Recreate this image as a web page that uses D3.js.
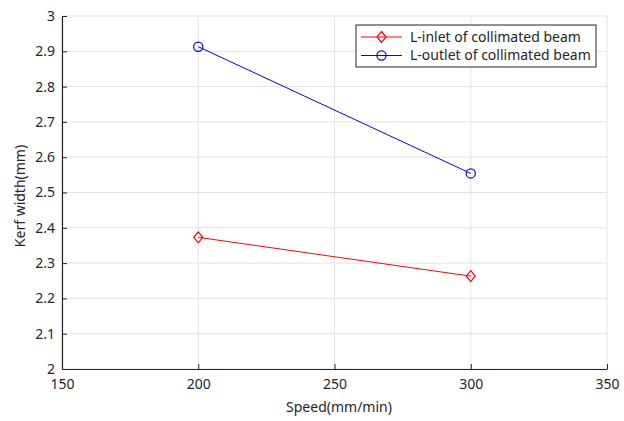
<!DOCTYPE html>
<html><head><meta charset="utf-8">
<script src="https://cdn.jsdelivr.net/npm/d3@7"></script>
<style>body{margin:0;background:#fff}svg{display:block}text{font-family:"Noto Sans","Noto Sans CJK KR",sans-serif;fill:#262626}</style>
</head><body><svg id="c" width="624" height="421"></svg>
<script>
const speeds = [200, 300];
const inletWidth = [2.373, 2.263];
const outletWidth = [2.913, 2.554];
const seriesNames = ["L-inlet of collimated beam", "L-outlet of collimated beam"];
const xTicks = [150, 200, 250, 300, 350];
const yTicks = [2, 2.1, 2.2, 2.3, 2.4, 2.5, 2.6, 2.7, 2.8, 2.9, 3];

const svg = d3.select("#c");
const L = 62, R = 607, T = 16, B = 369;
const x = d3.scaleLinear().domain([150, 350]).range([L, R]);
const y = d3.scaleLinear().domain([2, 3]).range([B, T]);

// grid
svg.append("g").selectAll("line").data(xTicks).join("line")
  .attr("x1", d => x(d)).attr("x2", d => x(d)).attr("y1", T).attr("y2", B)
  .attr("stroke", "#e3e3e3").attr("stroke-width", 1);
svg.append("g").selectAll("line").data(yTicks).join("line")
  .attr("x1", L).attr("x2", R).attr("y1", d => y(d)).attr("y2", d => y(d))
  .attr("stroke", "#e3e3e3").attr("stroke-width", 1);

// axes
const xAxis = d3.axisBottom(x).tickValues(xTicks).tickSizeInner(-5).tickSizeOuter(0).tickPadding(10).tickFormat(d3.format("d"));
const yAxis = d3.axisLeft(y).tickValues(yTicks).tickSizeInner(-5).tickSizeOuter(0).tickPadding(7).tickFormat(d => d3.format("")(d));
const gx = svg.append("g").attr("transform", `translate(0,${B})`).call(xAxis);
const gy = svg.append("g").attr("transform", `translate(${L},0)`).call(yAxis);
[gx, gy].forEach(g => {
  g.select(".domain").attr("stroke", "#262626").attr("stroke-width", 1.2);
  g.selectAll(".tick line").attr("stroke", "#262626");
  g.selectAll(".tick text").attr("font-size", 14).attr("fill", "#262626")
    .style("font-family", '"Noto Sans",sans-serif');
});

svg.append("text").attr("x", 339).attr("y", 412).attr("text-anchor", "middle")
  .attr("font-size", 14).text("Speed(mm/min)");
svg.append("text").attr("transform", `translate(25,196) rotate(-90)`).attr("text-anchor", "middle")
  .attr("font-size", 14).text("Kerf width(mm)");

const line = d3.line().x(d => x(d[0])).y(d => y(d[1]));
const diamond = (g, cx, cy, col) => g.append("path")
  .attr("d", `M${cx},${cy - 5.5}L${cx + 4.5},${cy}L${cx},${cy + 5.5}L${cx - 4.5},${cy}Z`)
  .attr("fill", "none").attr("stroke", col).attr("stroke-width", 1.2);
const circle = (g, cx, cy, col) => g.append("circle").attr("cx", cx).attr("cy", cy).attr("r", 4.6)
  .attr("fill", "none").attr("stroke", col).attr("stroke-width", 1.2);

const series = [
  {vals: inletWidth, col: "#ff0000", mk: diamond},
  {vals: outletWidth, col: "#0000ff", mk: circle}
];
series.forEach(s => {
  const pts = speeds.map((v, i) => [v, s.vals[i]]);
  svg.append("path").attr("d", line(pts)).attr("fill", "none").attr("stroke", s.col).attr("stroke-width", 1);
  const g = svg.append("g");
  pts.forEach(p => s.mk(g, x(p[0]), y(p[1]), s.col));
});

// legend
const lg = svg.append("g");
lg.append("rect").attr("x", 356).attr("y", 25).attr("width", 240).attr("height", 42)
  .attr("fill", "#fff").attr("stroke", "#262626").attr("stroke-width", 1);
series.forEach((s, i) => {
  const yy = 37 + i * 18.5;
  lg.append("line").attr("x1", 361).attr("x2", 402).attr("y1", yy).attr("y2", yy).attr("stroke", s.col);
  s.mk(lg, 381.5, yy, s.col);
  lg.append("text").attr("x", 410).attr("y", yy).attr("dy", "0.35em").attr("font-size", 14).text(seriesNames[i]);
});
</script></body></html>
